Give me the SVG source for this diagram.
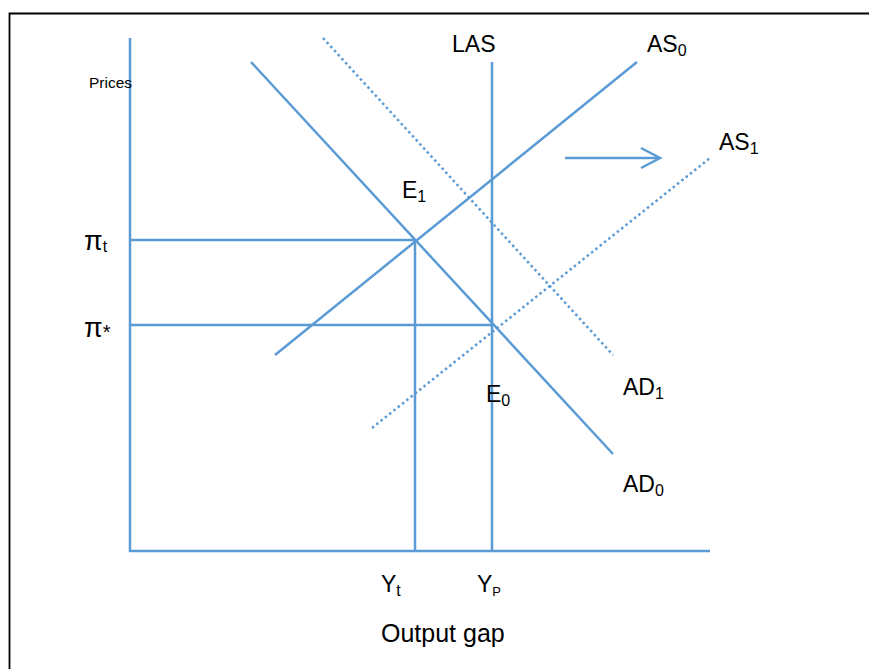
<svg xmlns="http://www.w3.org/2000/svg" width="869" height="669" viewBox="0 0 869 669">
<style>
.ln{stroke:#5B9BD5;stroke-width:2.5;fill:none}
.dot{stroke:#5B9BD5;stroke-width:2.5;fill:none;stroke-dasharray:2.5 3}
text{font-family:"Liberation Sans",Arial,sans-serif;fill:#000}
.lb{font-size:23px}
.sb{font-size:16px}
</style>
<rect x="0" y="0" width="869" height="669" fill="#fff"/>
<path d="M9.5 669 V13.5 H869" stroke="#000" stroke-width="1.8" fill="none"/>
<g id="axes">
<line class="ln" x1="130" y1="38" x2="130" y2="552"/>
<line class="ln" x1="129" y1="551" x2="710" y2="551"/>
</g>
<g id="connectors">
<line id="AD0" class="ln" x1="251" y1="62" x2="613" y2="454"/>
<line id="AS0" class="ln" x1="275" y1="355" x2="637" y2="62"/>
<line id="AD1" class="dot" x1="323" y1="38" x2="613" y2="355"/>
<line id="AS1" class="dot" x1="372" y1="428" x2="710" y2="158"/>
<line id="LAS" class="ln" x1="492" y1="62" x2="492" y2="551"/>
<line class="ln" x1="415" y1="240" x2="415" y2="551"/>
<line class="ln" x1="130" y1="240" x2="415" y2="240"/>
<line class="ln" x1="130" y1="325" x2="492" y2="325"/>
<line class="ln" x1="565" y1="158" x2="659" y2="158"/>
<path class="ln" d="M641 148 L660 158 L641 168"/>
</g>
<g id="labels">
<text x="89" y="88" style="font-size:15.5px">Prices</text>
<text class="lb" x="452" y="52">LAS</text>
<text class="lb" x="647" y="52">AS<tspan class="sb" dy="4">0</tspan></text>
<text class="lb" x="719" y="150">AS<tspan class="sb" dy="4">1</tspan></text>
<text class="lb" x="402" y="198">E<tspan class="sb" dy="4">1</tspan></text>
<text class="lb" x="486" y="402">E<tspan class="sb" dy="4">0</tspan></text>
<text class="lb" x="623" y="395">AD<tspan class="sb" dy="4">1</tspan></text>
<text class="lb" x="623" y="492">AD<tspan class="sb" dy="4">0</tspan></text>
<text x="84" y="250" style="font-size:27px">π<tspan class="sb" dy="2">t</tspan></text>
<text x="84" y="337" style="font-size:27px">π<tspan style="font-size:20px" dy="2">*</tspan></text>
<text class="lb" x="381" y="592">Y<tspan class="sb" dy="4">t</tspan></text>
<text class="lb" x="477" y="592">Y<tspan class="sb" dy="4" style="font-size:13px">P</tspan></text>
<text x="381" y="642" style="font-size:25px">Output gap</text>
</g>
</svg>
